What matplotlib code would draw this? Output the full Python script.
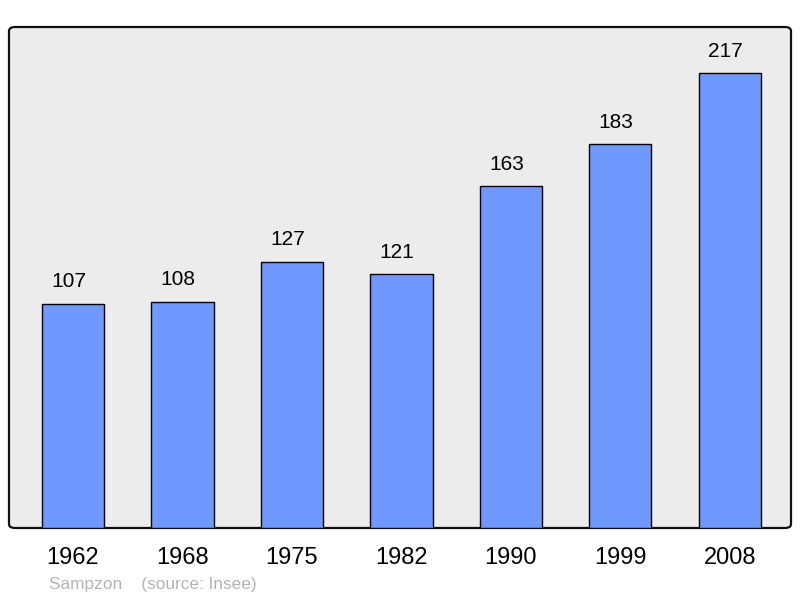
import matplotlib.pyplot as plt
from matplotlib.patches import FancyBboxPatch

plt.rcParams['font.family'] = ['Liberation Sans', 'DejaVu Sans']

# Données
annees = ["1962", "1968", "1975", "1982", "1990", "1999", "2008"]
population = [107, 108, 127, 121, 163, 183, 217]

fig = plt.figure(figsize=(8, 5.98), dpi=100)
ax = fig.add_axes([9 / 800, 70 / 598, 782 / 800, 501 / 598])
ax.set_facecolor('none')

# Fond arrondi avec bordure
fond = FancyBboxPatch((0, 0), 1, 1, boxstyle="round,pad=0,rounding_size=0.008",
                      transform=ax.transAxes, facecolor='#ececec',
                      edgecolor='#111111', linewidth=1.6, zorder=0, clip_on=False)
ax.add_patch(fond)

x = list(range(len(annees)))
barres = ax.bar(x, population, width=0.57, color='#7099ff',
                edgecolor='black', linewidth=1.0, zorder=2)

for xi, v in zip(x, population):
    ax.annotate(str(v), (xi, v), xytext=(-3, 9), textcoords='offset points',
                ha='center', va='bottom', fontsize=15, color='black')

ax.set_xlim(-0.585, 6.56)
ax.set_ylim(0, 239)
ax.set_yticks([])
ax.set_xticks(x)
ax.set_xticklabels(annees, fontsize=17)
ax.tick_params(axis='x', length=0, pad=14)
for s in ax.spines.values():
    s.set_visible(False)

fig.text(49 / 800, 1 - 584 / 598, "Sampzon    (source: Insee)", fontsize=12.4,
         color='#b4b4b4', ha='left', va='center')

fig.savefig("out.png", dpi=100)
